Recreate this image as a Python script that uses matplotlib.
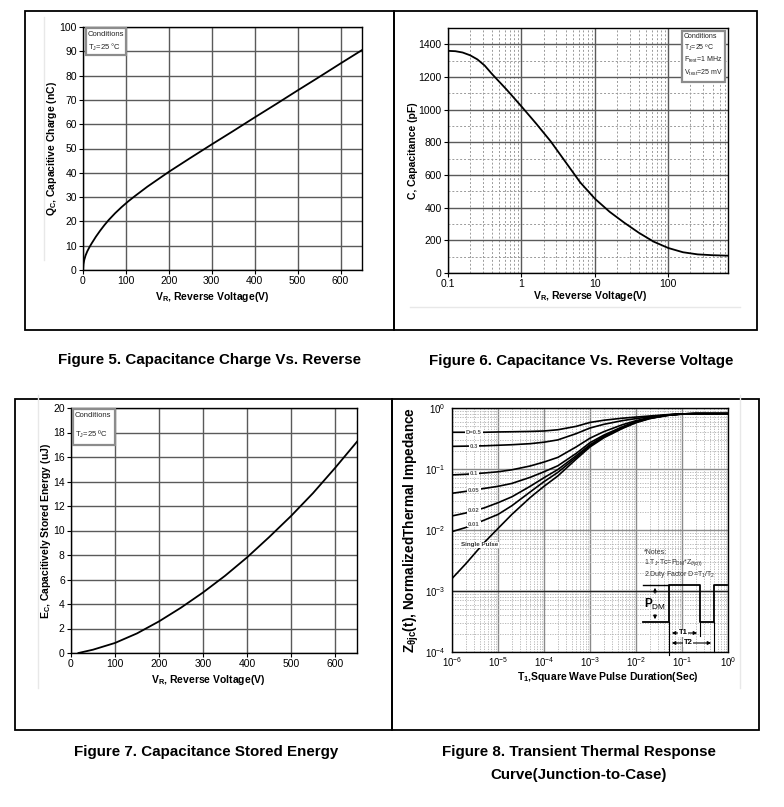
import numpy as np
import matplotlib
matplotlib.use("Agg")
import matplotlib.pyplot as plt
from matplotlib.patches import Rectangle, FancyArrowPatch
from matplotlib.lines import Line2D
from matplotlib.ticker import FixedLocator, NullFormatter, LogLocator

plt.rcParams['font.family'] = ['Liberation Sans', 'DejaVu Sans']
plt.rcParams['mathtext.fontset'] = 'custom'
plt.rcParams['mathtext.rm'] = 'Liberation Sans'
plt.rcParams['mathtext.it'] = 'Liberation Sans:italic'
plt.rcParams['mathtext.bf'] = 'Liberation Sans:bold'

# ---------------- data ----------------
# Fig 5: capacitive charge
qc_v = [0, 1, 3, 6, 10, 15, 20, 30, 40, 50, 60, 75, 90, 105, 120, 150, 200, 250, 300, 350, 400, 450, 500, 550, 600, 650]
qc_q = [0, 2.4, 4.2, 6.0, 7.7, 9.4, 10.9, 13.7, 16.2, 18.5, 20.6, 23.4, 25.9, 28.2, 30.3, 34.3, 40.4, 46.1,
        51.7, 57.2, 62.8, 68.3, 73.9, 79.4, 85.0, 90.5]

# Fig 6: capacitance
c_v = [0.1, 0.126, 0.158, 0.2, 0.251, 0.316, 0.398, 0.631, 1.0, 1.585, 2.512, 3.981, 6.31, 10, 15.85, 25.12,
       39.81, 63.1, 100, 158.5, 251.2, 398.1, 650]
c_pf = [1360, 1358, 1350, 1333, 1308, 1270, 1218, 1122, 1020, 915, 805, 680, 555, 455, 375, 308, 246, 192, 153,
        127, 114, 109, 106]

# Fig 7: stored energy
ec_v = [17, 50, 100, 150, 200, 250, 300, 350, 400, 450, 500, 550, 600, 650]
ec_e = [0, 0.27, 0.82, 1.6, 2.58, 3.7, 4.94, 6.3, 7.8, 9.45, 11.18, 13.05, 15.1, 17.25]

# Fig 8: transient thermal impedance
zth_t = [1e-6, 2e-6, 5e-6, 1e-5, 2e-5, 5e-5, 1e-4, 2e-4, 5e-4, 1e-3, 2e-3, 5e-3, 1e-2, 2e-2, 5e-2,
         1e-1, 2e-1, 5e-1, 1]
zth_d05 = [0.40, 0.40, 0.40, 0.405, 0.408, 0.413, 0.42, 0.44, 0.50, 0.58, 0.63, 0.68, 0.71, 0.74, 0.78,
           0.80, 0.81, 0.81, 0.81]
zth_d03 = [0.235, 0.237, 0.24, 0.245, 0.25, 0.26, 0.275, 0.30, 0.38, 0.47, 0.54, 0.62, 0.67, 0.72, 0.77,
           0.80, 0.81, 0.81, 0.81]
zth_d01 = [0.080, 0.082, 0.086, 0.090, 0.097, 0.112, 0.13, 0.155, 0.23, 0.32, 0.41, 0.53, 0.62, 0.70, 0.77,
           0.80, 0.81, 0.81, 0.81]
zth_d005 = [0.040, 0.043, 0.048, 0.052, 0.058, 0.073, 0.090, 0.113, 0.18, 0.27, 0.36, 0.49, 0.60, 0.69, 0.77,
            0.80, 0.81, 0.81, 0.81]
zth_d002 = [0.017, 0.019, 0.023, 0.028, 0.035, 0.052, 0.072, 0.098, 0.165, 0.25, 0.345, 0.48, 0.59, 0.68, 0.76,
            0.80, 0.81, 0.81, 0.81]
zth_d001 = [0.0094, 0.011, 0.0145, 0.018, 0.025, 0.042, 0.062, 0.088, 0.155, 0.24, 0.335, 0.47, 0.58, 0.68,
            0.76, 0.80, 0.81, 0.81, 0.81]
zth_single = [0.0016, 0.0028, 0.0062, 0.0106, 0.018, 0.034, 0.052, 0.077, 0.145, 0.23, 0.325, 0.46, 0.575,
              0.67, 0.76, 0.79, 0.81, 0.81, 0.81]
zth_labels = ["D=0.5", "0.3", "0.1", "0.05", "0.02", "0.01"]
zth_label_y = [0.40, 0.236, 0.083, 0.045, 0.021, 0.0125]

captions = ["Figure 5. Capacitance Charge Vs. Reverse",
            "Figure 6. Capacitance Vs. Reverse Voltage",
            "Figure 7. Capacitance Stored Energy",
            "Figure 8. Transient Thermal Response",
            "Curve(Junction-to-Case)"]

# ---------------- layout helpers ----------------
W, H = 784, 807
fig = plt.figure(figsize=(W / 100, H / 100), dpi=100)


def fx(x):
    return x / W


def fy(y):
    return 1 - y / H


def axes_px(x0, y0, x1, y1):
    return fig.add_axes([fx(x0), fy(y1), (x1 - x0) / W, (y1 - y0) / H])


def frect(x0, y0, x1, y1, fill=False, z=1, **kw):
    r = Rectangle((fx(x0), fy(y1)), (x1 - x0) / W, (y1 - y0) / H,
                  transform=fig.transFigure, fill=fill, zorder=z, **kw)
    fig.patches.append(r)
    return r


def fline(xs, ys, **kw):
    fig.lines.append(Line2D([fx(x) for x in xs], [fy(y) for y in ys],
                            transform=fig.transFigure, **kw))


# panel boxes
for b in [(25, 11, 394, 330), (394, 11, 757, 330), (15, 399, 392, 730), (392, 399, 759, 730)]:
    frect(*b, lw=1.3, edgecolor='black')

# faint artifacts
fline([44, 44], [17, 260], color='#e8e8e8', lw=1)
fline([410, 740], [307, 307], color='#e8e8e8', lw=1)
fline([38, 38], [395, 688], color='#e8e8e8', lw=1)
fline([740, 740], [395, 688], color='#e8e8e8', lw=1)

GRID = '#5a5a5a'
TICK_FS = 7.5
LAB_FS = 7.5


def style(ax):
    for s in ax.spines.values():
        s.set_linewidth(1.0)
        s.set_color('black')
    ax.tick_params(axis='both', which='major', direction='out', length=3, width=0.8,
                   labelsize=TICK_FS, pad=1.5, colors='black')
    ax.set_axisbelow(True)


def cond_box(x0, y0, x1, y1, lines, ys, fs):
    frect(x0, y0, x1, y1, fill=True, z=5, lw=1.6, edgecolor='#8c8c8c', facecolor='white')
    for t, yy in zip(lines, ys):
        fig.text(fx(x0 + 2), fy(yy), t, fontsize=fs, va='center', ha='left', color='#222222', zorder=6)


def place_labels(ax, ax_px, ycenter_x, xcenter, ycenter, yhalf=6, xhalf=6):
    x0, y0, x1, y1 = ax_px
    ax.yaxis.set_label_coords((ycenter_x + yhalf - x0) / (x1 - x0), 0.5)
    ax.xaxis.set_label_coords((xcenter - x0) / (x1 - x0), (y1 - (ycenter - xhalf)) / (y1 - y0))


# ---------------- Figure 5 ----------------
p1 = (83, 27, 362, 270)
ax1 = axes_px(*p1)
ax1.plot(qc_v, qc_q, color='black', lw=1.3)
ax1.set_xlim(0, 650)
ax1.set_ylim(0, 100)
ax1.set_xticks(np.arange(0, 601, 100))
ax1.set_yticks(np.arange(0, 101, 10))
ax1.grid(True, color=GRID, lw=1.0)
style(ax1)
ax1.set_ylabel(r"$\mathbf{Q_C}$, Capacitive Charge (nC)", fontsize=LAB_FS, fontweight='bold')
ax1.set_xlabel(r"$\mathbf{V_R}$, Reverse Voltage(V)", fontsize=LAB_FS, fontweight='bold')
place_labels(ax1, p1, 53, 212, 296)
cond_box(86, 28, 126, 55, ["Conditions", r"T$_\mathrm{J}$=25 °C"], [35, 47], 5.5)

# ---------------- Figure 6 ----------------
p2 = (448, 28, 728, 273)
ax2 = axes_px(*p2)
ax2.plot(c_v, c_pf, color='black', lw=1.3)
ax2.set_xscale('log')
ax2.set_xlim(0.1, 650)
ax2.set_ylim(0, 1500)
ax2.xaxis.set_major_locator(FixedLocator([0.1, 1, 10, 100]))
ax2.set_xticklabels(["0.1", "1", "10", "100"])
ax2.xaxis.set_minor_locator(LogLocator(base=10, subs=np.arange(2, 10)))
ax2.xaxis.set_minor_formatter(NullFormatter())
ax2.set_yticks(np.arange(0, 1401, 200))
ax2.yaxis.set_minor_locator(FixedLocator(np.arange(100, 1500, 200)))
ax2.grid(True, which='major', color=GRID, lw=1.0)
ax2.grid(True, which='minor', color='#9a9a9a', lw=0.7, linestyle=(0, (2, 2)))
style(ax2)
ax2.tick_params(which='minor', length=0)
ax2.set_ylabel("C, Capacitance (pF)", fontsize=LAB_FS, fontweight='bold')
ax2.set_xlabel(r"$\mathbf{V_R}$, Reverse Voltage(V)", fontsize=LAB_FS, fontweight='bold')
place_labels(ax2, p2, 412, 590, 295)
cond_box(682, 31, 725, 82, ["Conditions", r"T$_\mathrm{J}$=25 ºC", r"F$_\mathrm{test}$=1 MHz",
                             r"V$_\mathrm{test}$=25 mV"], [36, 48, 60, 73], 5)

# ---------------- Figure 7 ----------------
p3 = (71, 408, 357, 653)
ax3 = axes_px(*p3)
ax3.plot(ec_v, ec_e, color='black', lw=1.3)
ax3.set_xlim(0, 650)
ax3.set_ylim(0, 20)
ax3.set_xticks(np.arange(0, 601, 100))
ax3.set_yticks(np.arange(0, 21, 2))
ax3.grid(True, color=GRID, lw=1.0)
style(ax3)
ax3.set_ylabel(r"$\mathbf{E_C}$, Capacitively Stored Energy (uJ)", fontsize=LAB_FS, fontweight='bold')
ax3.set_xlabel(r"$\mathbf{V_R}$, Reverse Voltage(V)", fontsize=LAB_FS, fontweight='bold')
place_labels(ax3, p3, 47, 208, 679)
cond_box(73, 409, 115, 445, ["Conditions", r"T$_\mathrm{J}$=25 ºC"], [416, 434], 5.5)

# ---------------- Figure 8 ----------------
p4 = (452, 408, 728, 652)
ax4 = axes_px(*p4)
series = [zth_d05, zth_d03, zth_d01, zth_d005, zth_d002, zth_d001, zth_single]
for s in series:
    ax4.plot(zth_t, s, color='black', lw=1.2)
ax4.set_xscale('log')
ax4.set_yscale('log')
ax4.set_xlim(1e-6, 1)
ax4.set_ylim(1e-4, 1)
ax4.xaxis.set_major_locator(LogLocator(base=10, numticks=10))
ax4.yaxis.set_major_locator(LogLocator(base=10, numticks=10))
ax4.xaxis.set_minor_locator(LogLocator(base=10, subs=np.arange(2, 10), numticks=20))
ax4.yaxis.set_minor_locator(LogLocator(base=10, subs=np.arange(2, 10), numticks=20))
ax4.xaxis.set_minor_formatter(NullFormatter())
ax4.yaxis.set_minor_formatter(NullFormatter())
ax4.grid(True, which='major', color='#8a8a8a', lw=1.0)
ax4.grid(True, which='minor', color='#b0b0b0', lw=0.6, linestyle=(0, (1.5, 1.5)))
ax4.axhline(1e-3, color='#222222', lw=1.0)
style(ax4)
ax4.tick_params(which='minor', length=0)
ax4.tick_params(which='major', length=0, labelsize=7)
ax4.tick_params(axis='x', which='major', pad=2.5)
ax4.tick_params(axis='y', which='major', pad=4.5)
for lab, yv in zip(zth_labels, zth_label_y):
    ax4.text(3.0e-6, yv, lab, fontsize=4.2, fontweight='bold', color='#555555', ha='center', va='center',
             bbox=dict(facecolor='white', edgecolor='none', pad=0.6))
ax4.text(3.9e-6, 0.0057, "Single Pulse", fontsize=4.5, fontweight='bold', color='#333333', ha='center',
         va='center', bbox=dict(facecolor='white', edgecolor='none', pad=0.5))
ax4.set_ylabel(r"$\mathbf{Z_{\theta jc}(t)}$, NormalizedThermal Impedance", fontsize=9.8, fontweight='bold')
ax4.set_xlabel(r"$\mathbf{T_1}$,Square Wave Pulse Duration(Sec)", fontsize=LAB_FS, fontweight='bold')
place_labels(ax4, p4, 414, 608, 676, yhalf=7, xhalf=6)

# notes
fig.text(fx(644), fy(553), "*Notes:", fontsize=5, va='center', color='#333333')
fig.text(fx(644), fy(563), r"1.T$_\mathrm{J}$-Tc=P$_\mathrm{DM}$*Z$_{\theta\mathrm{jc(t)}}$", fontsize=5,
         va='center', color='#333333')
fig.text(fx(644), fy(574), r"2.Duty Factor D=T$_\mathrm{1}$/T$_\mathrm{2}$", fontsize=5, va='center',
         color='#333333')

# pulse diagram
hi, lo = 585, 622
fline([643, 669], [hi, hi], color='black', lw=1.0)
fline([643, 669, 669, 700, 700, 714, 714, 727], [lo, lo, hi, hi, lo, lo, hi, hi], color='black', lw=1.3)
fline([669, 669], [lo, 655], color='black', lw=0.8)
fline([700, 700], [lo, 636], color='black', lw=0.8)
fline([714, 714], [lo, 652], color='black', lw=0.8)
for (xa, ya, xb, yb) in [(655, 596, 655, hi), (655, 612, 655, lo)]:
    fig.add_artist(FancyArrowPatch((fx(xa), fy(ya)), (fx(xb), fy(yb)), transform=fig.transFigure,
                                   arrowstyle='-|>', mutation_scale=5, lw=0.8, color='black'))
fig.text(fx(655), fy(604), r"P$_\mathrm{DM}$", fontsize=8.5, fontweight='bold', ha='center', va='center')
for (x0, x1, yy, lab, xl) in [(669, 700, 633, "T1", 683), (669, 714, 643, "T2", 688)]:
    fig.add_artist(FancyArrowPatch((fx(x0), fy(yy)), (fx(x1), fy(yy)), transform=fig.transFigure,
                                   arrowstyle='<|-|>', mutation_scale=5, lw=0.8, color='black'))
    fig.text(fx(xl), fy(yy), lab, fontsize=5.5, fontweight='bold', ha='center', va='center',
             bbox=dict(facecolor='white', edgecolor='none', pad=0.3))

# captions
CAP_FS = 10.9
fig.text(fx(210), fy(360), captions[0], fontsize=CAP_FS, fontweight='bold', ha='center', va='center')
fig.text(fx(581), fy(361), captions[1], fontsize=CAP_FS, fontweight='bold', ha='center', va='center')
fig.text(fx(206), fy(752), captions[2], fontsize=CAP_FS, fontweight='bold', ha='center', va='center')
fig.text(fx(579), fy(752), captions[3], fontsize=CAP_FS, fontweight='bold', ha='center', va='center')
fig.text(fx(579), fy(775), captions[4], fontsize=CAP_FS, fontweight='bold', ha='center', va='center')

fig.savefig("out.png", dpi=100, facecolor='white')
